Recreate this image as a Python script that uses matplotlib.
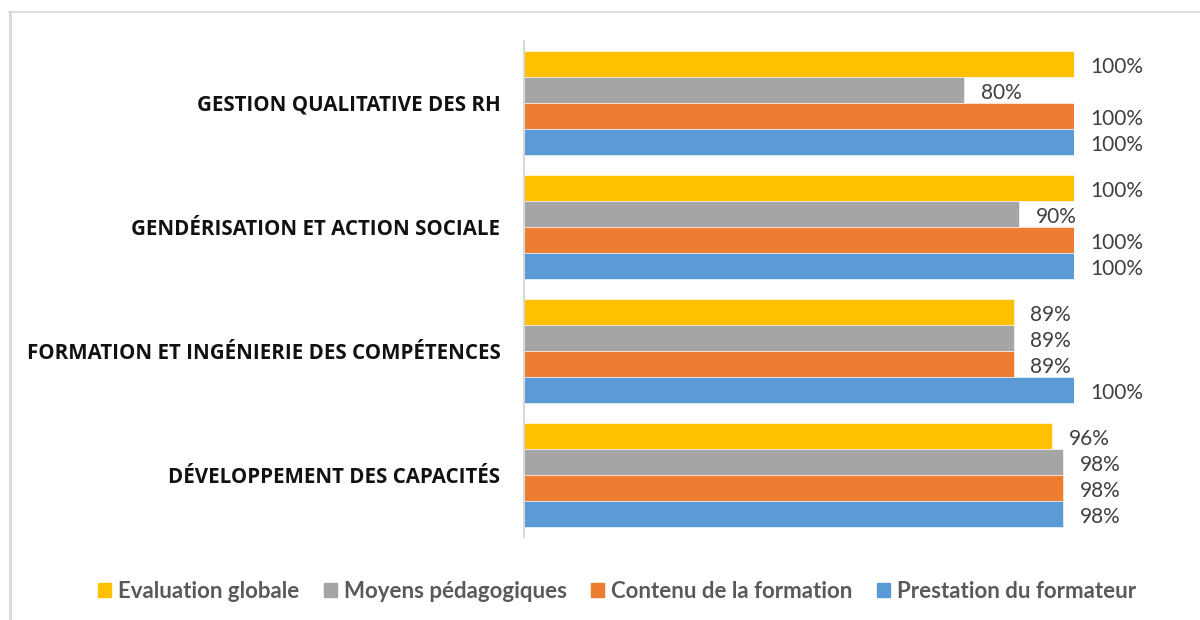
import matplotlib
matplotlib.use("Agg")
import matplotlib.pyplot as plt
from matplotlib.lines import Line2D
import numpy as np

categories = [
    "GESTION QUALITATIVE DES RH",
    "GENDÉRISATION ET ACTION SOCIALE",
    "FORMATION ET INGÉNIERIE DES COMPÉTENCES",
    "DÉVELOPPEMENT DES CAPACITÉS",
]
series_names = [
    "Evaluation globale",
    "Moyens pédagogiques",
    "Contenu de la formation",
    "Prestation du formateur",
]
evaluation_globale = [100, 100, 89, 96]
moyens_pedagogiques = [80, 90, 89, 98]
contenu_formation = [100, 100, 89, 98]
prestation_formateur = [100, 100, 100, 98]
series_values = [evaluation_globale, moyens_pedagogiques, contenu_formation, prestation_formateur]
colors = ["#FFC000", "#A5A5A5", "#ED7D31", "#5B9BD5"]

W, H = 1200, 620
fig = plt.figure(figsize=(W / 100, H / 100), dpi=100)
fig.patch.set_facecolor("white")

# axes: x 524..1074 px for 0..100, y 41..537 px
ax = fig.add_axes([524 / W, 1 - 537 / H, 550 / W, 496 / H])
ax.set_xlim(0, 100)
n = len(categories)
ax.set_ylim(-0.5, n - 0.5)

bar_h = 26 / 124
ypos = np.arange(n)[::-1]  # first category on top
for i, (name, vals, c) in enumerate(zip(series_names, series_values, colors)):
    y = ypos + (1.5 - i) * bar_h
    ax.barh(y, vals, height=bar_h, color=c, edgecolor="white",
            linewidth=0.4, label=name)
    for yy, v in zip(y, vals):
        ax.annotate(f"{v}%", xy=(v, yy), xytext=(12, -2), textcoords="offset points",
                    ha="left", va="center", fontsize=15, color="#404040",
                    family=["Lato", "DejaVu Sans"], annotation_clip=False)

ax.set_yticks(ypos)
ax.set_yticklabels(categories, fontsize=14.8, fontweight="bold", color="#111111",
                   family=["Open Sans", "DejaVu Sans"])
ax.tick_params(axis="y", length=0, pad=17)
ax.set_xticks([])
for s in ["top", "right", "bottom"]:
    ax.spines[s].set_visible(False)
ax.spines["left"].set_color("#D9D9D9")
ax.spines["left"].set_linewidth(1.5)

handles = [plt.Rectangle((0, 0), 1, 1, color=c) for c in colors]
leg = fig.legend(handles, series_names, loc="center", bbox_to_anchor=(617 / W, 1 - 591 / H),
                 ncol=4, frameon=False, handlelength=0.6, handleheight=0.6,
                 handletextpad=0.3, columnspacing=1.1,
                 prop={"family": ["Lato", "DejaVu Sans"], "weight": "bold", "size": 16})
for t in leg.get_texts():
    t.set_color("#595959")

# chart border (top and left)
fig.add_artist(Line2D([9 / W, 1], [1 - 12 / H, 1 - 12 / H], transform=fig.transFigure,
                      color="#D9D9D9", linewidth=1.2))
fig.add_artist(Line2D([10 / W, 10 / W], [0, 1 - 12 / H], transform=fig.transFigure,
                      color="#D9D9D9", linewidth=2.0))

fig.savefig("out.png", dpi=100, facecolor="white")
